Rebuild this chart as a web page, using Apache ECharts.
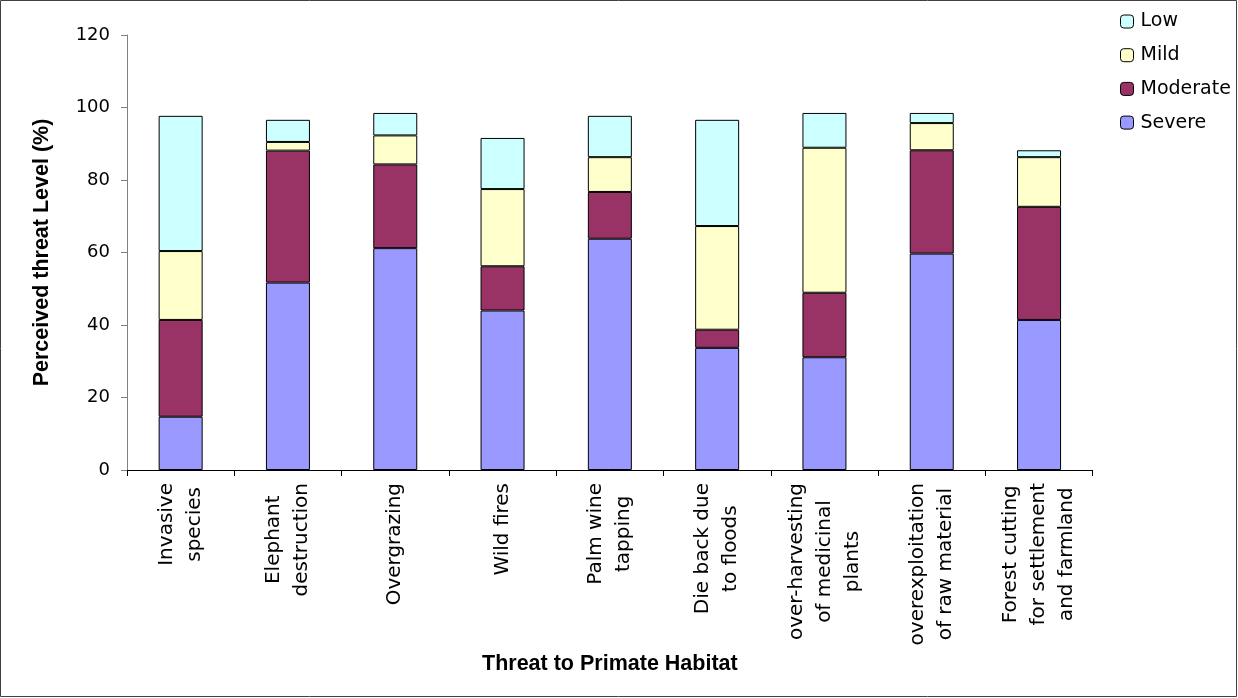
<!DOCTYPE html>
<html>
<head>
<meta charset="utf-8">
<script src="https://cdn.jsdelivr.net/npm/echarts@6/dist/echarts.min.js"></script>
<style>
  html, body { margin: 0; padding: 0; background: #fff; }
  #chart { width: 1238px; height: 698px; }
</style>
</head>
<body>
<div id="chart"></div>
<script>
const categories = [
  "Invasive\nspecies",
  "Elephant\ndestruction",
  "Overgrazing",
  "Wild fires",
  "Palm wine\ntapping",
  "Die back due\nto floods",
  "over-harvesting\nof medicinal\nplants",
  "overexploitation\nof raw material",
  "Forest cutting\nfor settlement\nand farmland"
];
const severe   = [14.7, 51.7, 61.2, 44.0, 63.8, 33.7, 31.1, 59.7, 41.4];
const moderate = [26.7, 36.4, 23.1, 12.2, 12.9,  5.0, 17.8, 28.5, 31.2];
const mild     = [19.0,  2.4,  8.0, 21.3,  9.6, 28.6, 40.0,  7.5, 13.7];
const low      = [37.3,  6.1,  6.2, 14.1, 11.4, 29.3,  9.6,  2.8,  1.9];
const yTicks = { min: 0, max: 120, interval: 20 };

const FONT = "DejaVu Sans, sans-serif";
const BOLD_FONT = "Liberation Sans, Arial, sans-serif";

const chart = echarts.init(document.getElementById("chart"));

// stacked bar helper
const bar = (name, data, color) => ({
  name: name,
  type: "bar",
  stack: "total",
  data: data,
  barWidth: 44,
  itemStyle: { color: color, borderColor: "#000", borderWidth: 1 }
});

const option = {
  backgroundColor: "#fff",
  animation: false,
  textStyle: { fontFamily: FONT },
  grid: { left: 127, right: 145.3, top: 35, bottom: 228 },
  legend: {
    orient: "vertical",
    left: 1120,
    top: 12,
    padding: 0,
    itemWidth: 13,
    itemHeight: 13,
    itemGap: 14.7,
    data: ["Low", "Mild", "Moderate", "Severe"],
    itemStyle: { borderColor: "#000", borderWidth: 1 },
    textStyle: { fontSize: 19, color: "#000", fontFamily: FONT, padding: [0, 0, 0, 2] }
  },
  xAxis: {
    type: "category",
    data: categories,
    name: "Threat to Primate Habitat",
    nameLocation: "middle",
    nameGap: 177,
    nameTextStyle: { fontSize: 21.5, fontWeight: "bold", color: "#000", fontFamily: BOLD_FONT },
    axisLine: { lineStyle: { color: "#000", width: 1 } },
    axisTick: { show: true, length: 6, lineStyle: { color: "#000" } },
    axisLabel: {
      rotate: 90,
      margin: 13,
      interval: 0,
      formatter: (v) => v.split("\n").map((s) => "{c|" + s + "}").join("\n"),
      rich: {
        c: { align: "center", fontSize: 20, lineHeight: 28, color: "#000", fontFamily: FONT }
      }
    }
  },
  yAxis: {
    type: "value",
    min: yTicks.min,
    max: yTicks.max,
    interval: yTicks.interval,
    name: "Perceived threat Level (%)",
    nameLocation: "middle",
    nameGap: 74,
    nameTextStyle: { fontSize: 21.5, fontWeight: "bold", color: "#000", fontFamily: BOLD_FONT },
    axisLine: { show: true, lineStyle: { color: "#808080", width: 1 } },
    axisTick: { show: true, length: 6, lineStyle: { color: "#808080" } },
    axisLabel: { fontSize: 18, color: "#000", margin: 17, fontFamily: FONT },
    splitLine: { show: false }
  },
  graphic: [
    {
      type: "rect",
      shape: { x: 0.5, y: 0.5, width: 1236, height: 696 },
      style: { fill: "none", stroke: "#404040", lineWidth: 1 },
      silent: true
    }
  ],
  series: [
    bar("Severe", severe, "#9999FF"),
    bar("Moderate", moderate, "#993366"),
    bar("Mild", mild, "#FFFFCC"),
    bar("Low", low, "#CCFFFF")
  ]
};

chart.setOption(option);
window.addEventListener("resize", () => chart.resize());
</script>
</body>
</html>
